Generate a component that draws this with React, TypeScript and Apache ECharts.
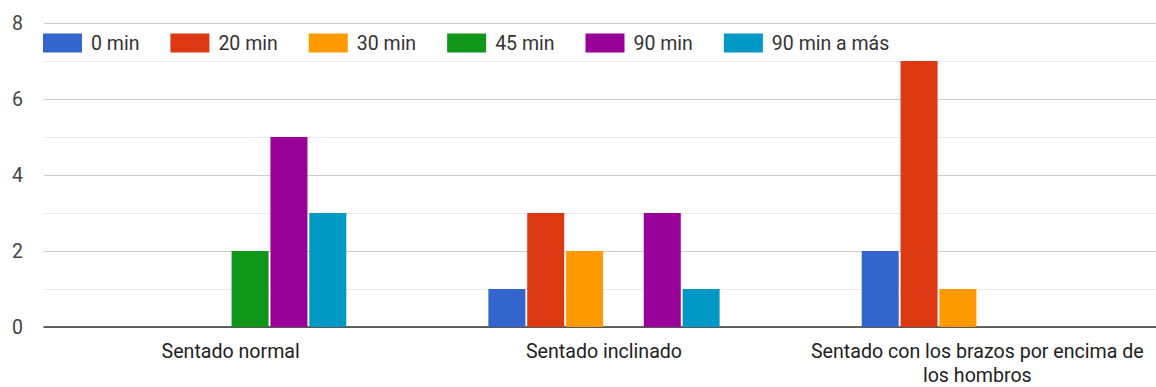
import React, { useEffect, useRef } from "react";
import * as echarts from "echarts";

const categories = [
  "Sentado normal",
  "Sentado inclinado",
  "Sentado con los brazos por encima de\nlos hombros",
];
const seriesNames = ["0 min", "20 min", "30 min", "45 min", "90 min", "90 min a más"];
const colors = ["#3366cc", "#dc3912", "#ff9900", "#109618", "#990099", "#0099c6"];
const min0 = [0, 1, 2];
const min20 = [0, 3, 7];
const min30 = [0, 2, 1];
const min45 = [2, 0, 0];
const min90 = [5, 3, 0];
const min90plus = [3, 1, 0];
const seriesValues = [min0, min20, min30, min45, min90, min90plus];
const yTicks = [0, 2, 4, 6, 8];

const FONT = "Roboto, Arial, sans-serif";

export default function App() {
  const ref = useRef<HTMLDivElement>(null);
  useEffect(() => {
    if (!ref.current) return;
    const chart = echarts.init(ref.current, undefined, { renderer: "svg" });
    chart.setOption({
      animation: false,
      color: colors,
      textStyle: { fontFamily: FONT },
      legend: {
        left: 43,
        top: 33,
        padding: 0,
        itemWidth: 39,
        itemHeight: 19,
        itemGap: 31,
        icon: "rect",
        textStyle: { fontSize: 19.5, color: "#333", fontFamily: FONT, padding: [0, 0, 0, 4] },
        data: seriesNames,
      },
      grid: { left: 44, top: 23, right: 0, bottom: 57.5, containLabel: false },
      xAxis: {
        type: "category",
        data: categories,
        axisTick: { show: false },
        axisLine: { show: true, lineStyle: { color: "#333", width: 1.5 } },
        axisLabel: {
          fontSize: 19.6,
          color: "#222",
          fontFamily: FONT,
          margin: 12,
          lineHeight: 24,
          interval: 0,
        },
      },
      yAxis: {
        type: "value",
        min: yTicks[0],
        max: yTicks[yTicks.length - 1],
        interval: 2,
        axisLine: { show: false },
        axisTick: { show: false },
        axisLabel: { fontSize: 19.5, color: "#444", fontFamily: FONT, margin: 21 },
        splitLine: { show: true, lineStyle: { color: "#cccccc", width: 1 } },
        minorTick: { show: false, splitNumber: 2 },
        minorSplitLine: { show: true, lineStyle: { color: "#ebebeb", width: 1 } },
      },
      series: seriesNames.map((name, i) => ({
        name,
        type: "bar",
        data: seriesValues[i],
        barWidth: 37,
        barGap: "5%",
        itemStyle: { color: colors[i] },
      })),
    });
    return () => chart.dispose();
  }, []);
  return (
    <div
      ref={ref}
      style={{ position: "fixed", left: 0, top: 0, width: 1164, height: 387, background: "#fff" }}
    />
  );
}
